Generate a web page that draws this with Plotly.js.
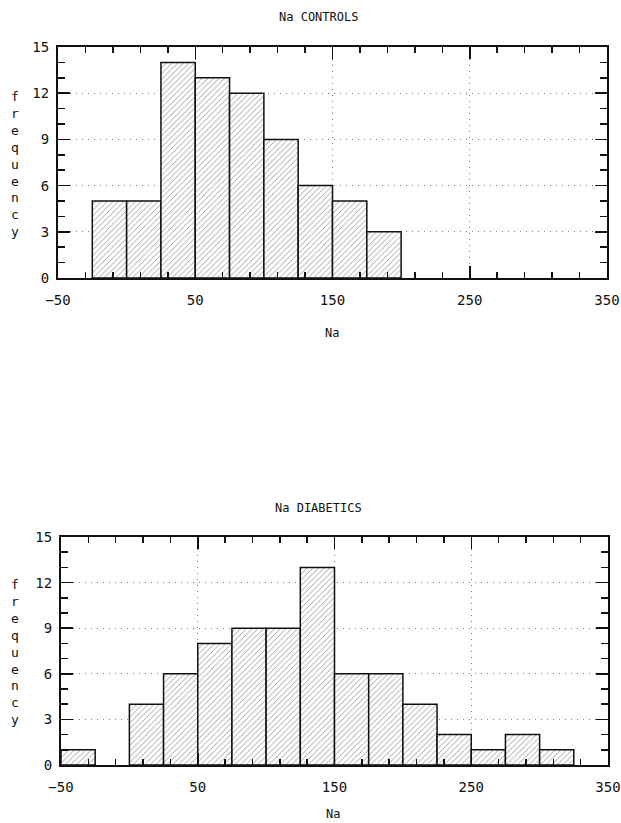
<!DOCTYPE html>
<html><head><meta charset="utf-8">
<script src="https://cdn.plot.ly/plotly-3.0.1.min.js"></script>
<style>html,body{margin:0;padding:0;background:#fff;}#chart{width:621px;height:823px;}</style>
</head><body><div id="chart"></div>
<script>
// Bin centers (bin width 25) and counts
const binWidth = 25;
const controlsCenters = [-12.5, 12.5, 37.5, 62.5, 87.5, 112.5, 137.5, 162.5, 187.5];
const controlsCounts  = [5, 5, 14, 13, 12, 9, 6, 5, 3];
const diabeticsCenters = [-37.5, 12.5, 37.5, 62.5, 87.5, 112.5, 137.5, 162.5, 187.5, 212.5, 237.5, 262.5, 287.5, 312.5];
const diabeticsCounts  = [1, 4, 6, 8, 9, 9, 13, 6, 6, 4, 2, 1, 2, 1];
const titles = ["Na CONTROLS", "Na DIABETICS"];
const xLabel = "Na";
const yLabel = "frequency";
const xTickVals = [-50, 50, 150, 250, 350];
const yTickVals = [0, 3, 6, 9, 12, 15];

const FONT = "'DejaVu Sans Mono', 'Liberation Mono', monospace";
const marker = {
  color: '#fff',
  line: {color: '#111', width: 1.5},
  pattern: {shape: '/', fgcolor: '#666', bgcolor: '#fff', size: 4, solidity: 0.15}
};
const traces = [
  {type: 'bar', x: controlsCenters, y: controlsCounts, width: binWidth, marker: marker, xaxis: 'x', yaxis: 'y', hoverinfo: 'x+y'},
  {type: 'bar', x: diabeticsCenters, y: diabeticsCounts, width: binWidth, marker: marker, xaxis: 'x2', yaxis: 'y2', hoverinfo: 'x+y'}
];
function xax(domain, anchor) {
  return {domain: domain, anchor: anchor, range: [-50, 350], tickmode: 'array', tickvals: xTickVals,
    ticks: 'inside', ticklen: 12, tickwidth: 1.5, tickcolor: '#111', showline: true, linewidth: 2, linecolor: '#111', mirror: 'ticks',
    showgrid: true, gridcolor: '#777', griddash: '1px,5px', gridwidth: 1, zeroline: false, ticklabelstandoff: 8,
    minor: {dtick: 20, tick0: -50, ticks: 'inside', ticklen: 6, tickwidth: 1.5, tickcolor: '#111', showgrid: false},
    tickfont: {family: FONT, size: 14, color: '#111'}, fixedrange: true};
}
function yax(domain, anchor) {
  return {domain: domain, anchor: anchor, range: [0, 15], tickmode: 'array', tickvals: yTickVals,
    ticks: 'inside', ticklen: 12, tickwidth: 1.5, tickcolor: '#111', showline: true, linewidth: 2, linecolor: '#111', mirror: 'ticks',
    showgrid: true, gridcolor: '#777', griddash: '1px,5px', gridwidth: 1, zeroline: false, ticklabelstandoff: 4,
    minor: {dtick: 1, tick0: 0, ticks: 'inside', ticklen: 7, tickwidth: 1.5, tickcolor: '#111', showgrid: false},
    tickfont: {family: FONT, size: 14, color: '#111'}, fixedrange: true};
}
const H = 823, W = 621;
const px = v => v / W, py = v => 1 - v / H;
const stacked = yLabel.split('').join('<br>');
const annFont = {family: FONT, size: 12, color: '#111'};
const yFont = {family: FONT, size: 13, color: '#111'};
const common = {xref: 'paper', yref: 'paper', showarrow: false, xanchor: 'center', yanchor: 'middle'};
const layout = {
  width: W, height: H, margin: {l: 0, r: 0, t: 0, b: 0},
  paper_bgcolor: '#fff', plot_bgcolor: '#fff', showlegend: false, bargap: 0,
  xaxis: xax([px(58), px(607)], 'y'),
  yaxis: yax([py(278), py(47)], 'x'),
  xaxis2: xax([px(61), px(608)], 'y2'),
  yaxis2: yax([py(765), py(537)], 'x2'),
  annotations: [
    Object.assign({text: titles[0], x: px(318), y: py(17), font: annFont}, common),
    Object.assign({text: titles[1], x: px(318), y: py(508), font: annFont}, common),
    Object.assign({text: xLabel, x: px(332), y: py(333), font: annFont}, common),
    Object.assign({text: xLabel, x: px(333), y: py(814), font: annFont}, common),
    Object.assign({text: stacked, x: px(15), y: py(164), font: yFont, align: 'center'}, common),
    Object.assign({text: stacked, x: px(15), y: py(652), font: yFont, align: 'center'}, common)
  ]
};
Plotly.newPlot('chart', traces, layout, {staticPlot: true, displayModeBar: false});
</script></body></html>
